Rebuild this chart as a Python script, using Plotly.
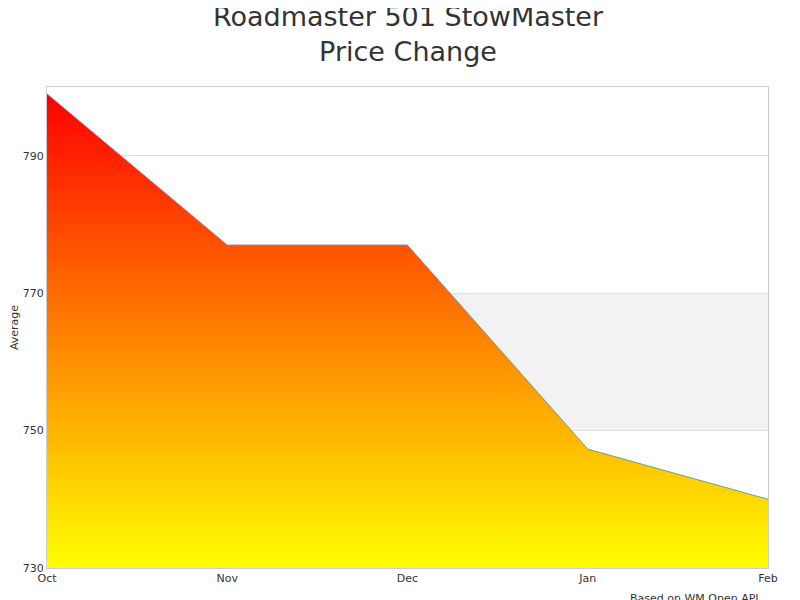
import plotly.graph_objects as go

months = ["Oct", "Nov", "Dec", "Jan", "Feb"]
avg = [799, 777, 777, 747.3, 740]

fig = go.Figure()
fig.add_shape(type="rect", xref="paper", x0=0, x1=1, yref="y", y0=750, y1=770,
              fillcolor="#f2f2f2", line_width=0, layer="below")
fig.add_trace(go.Scatter(
    x=list(range(len(months))), y=avg, mode="lines",
    line=dict(color="#5b9bd5", width=1),
    fill="tozeroy",
    fillgradient=dict(type="vertical", start=730, stop=799,
                      colorscale=[[0, "#ffff00"], [1, "#ff0000"]]),
    hoverinfo="skip"))
fig.update_layout(
    width=800, height=600, autosize=False, paper_bgcolor="white", plot_bgcolor="white",
    margin=dict(l=39, r=40, t=79, b=40, autoexpand=False), showlegend=False,
    font=dict(family="DejaVu Sans", color="#333"),
    title=dict(text="Roadmaster 501 StowMaster<br>Price Change", x=0.5, xanchor="center",
               y=0.97, yanchor="top", font=dict(size=27, color="#333")),
    xaxis=dict(range=[0, 4], tickvals=list(range(len(months))), ticktext=months,
               showgrid=False, zeroline=False, showline=True, linecolor="#ccc", mirror=True,
               tickfont=dict(size=11), ticks="", automargin=False),
    yaxis=dict(range=[730, 800], dtick=20, tick0=730, showgrid=True, gridcolor="#e0e0e0",
               zeroline=False, showline=True, linecolor="#ccc", mirror=True, automargin=False,
               tickfont=dict(size=11), title=dict(text="Average", font=dict(size=11), standoff=4)),
    annotations=[dict(text="Based on WM Open API", xref="paper", yref="paper", x=0.99, y=-0.045,
                      xanchor="right", yanchor="top", showarrow=False, font=dict(size=11))],
)
fig.write_html("out.html", config={"responsive": False})
